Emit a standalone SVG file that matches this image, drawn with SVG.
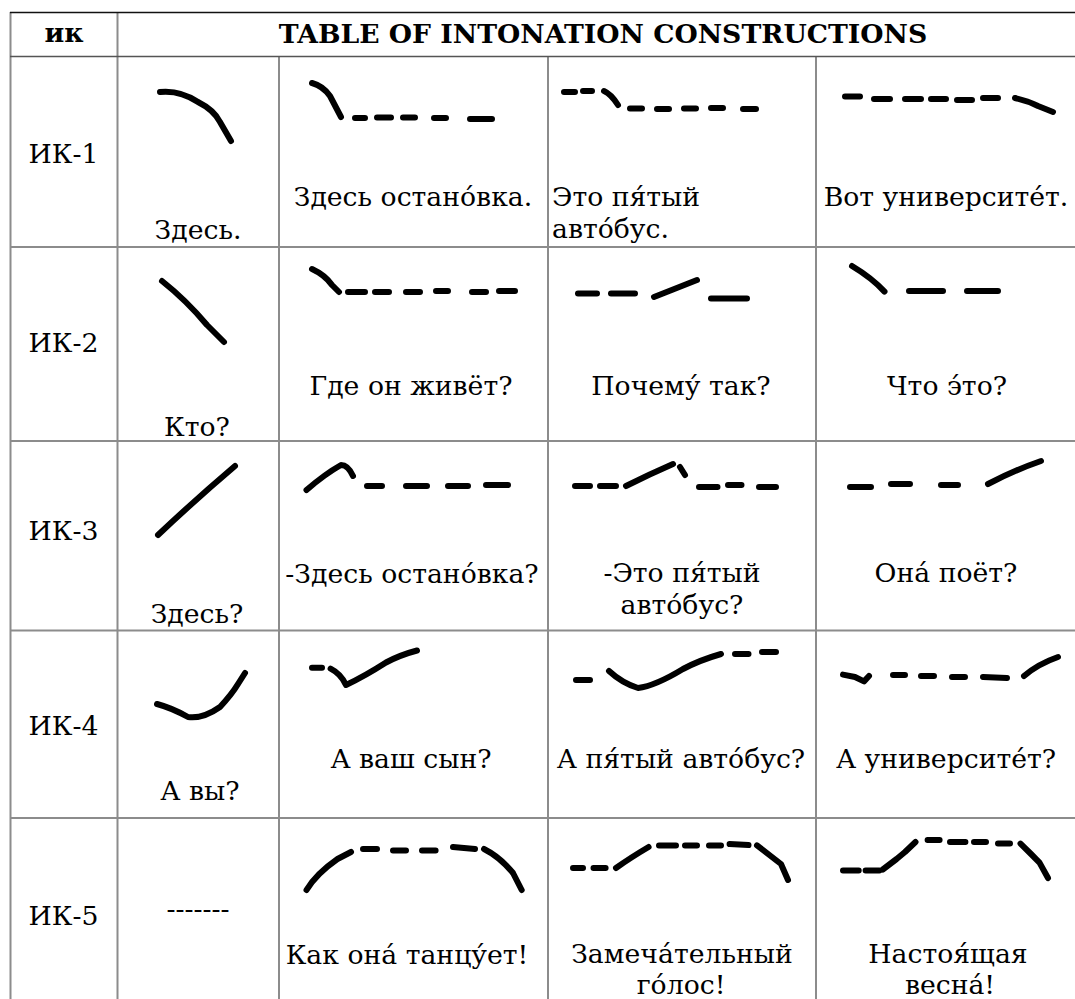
<svg xmlns="http://www.w3.org/2000/svg" width="1075" height="999" viewBox="0 0 1075 999">
<style>
.t{font-family:"DejaVu Serif","Liberation Serif",serif;font-size:26.7px;fill:#000}
.h{font-family:"DejaVu Serif","Liberation Serif",serif;font-size:26.7px;font-weight:bold;fill:#000}
.m{text-anchor:middle}
.c{fill:none;stroke:#000;stroke-width:6;stroke-linecap:round;stroke-linejoin:round}
.g{stroke:#8c8c8c;stroke-width:2;fill:none}
</style>
<rect width="1075" height="999" fill="#fff"/>
<g id="grid">
<line class="g" x1="10.5" y1="12" x2="10.5" y2="999"/>
<line class="g" x1="117.5" y1="12" x2="117.5" y2="999"/>
<line class="g" x1="279" y1="57" x2="279" y2="999"/>
<line class="g" x1="548" y1="57" x2="548" y2="999"/>
<line class="g" x1="816" y1="57" x2="816" y2="999"/>
<line class="g" x1="10" y1="247" x2="1075" y2="247"/>
<line class="g" x1="10" y1="441" x2="1075" y2="441"/>
<line class="g" x1="10" y1="630.5" x2="1075" y2="630.5"/>
<line class="g" x1="10" y1="818" x2="1075" y2="818"/>
<line x1="10" y1="56.5" x2="1075" y2="56.5" stroke="#555" stroke-width="1.5"/>
<line x1="10" y1="12.5" x2="1075" y2="12.5" stroke="#111" stroke-width="1.3"/>
</g>
<g id="header">
<text class="h m" x="64" y="42">ик</text>
<text class="h m" x="603" y="43">TABLE OF INTONATION CONSTRUCTIONS</text>
</g>
<g id="row1">
<text class="t m" x="63.5" y="163">ИК-1</text>
<g id="r1c1"><path class="c" d="M160,92 Q180,90 198,102 Q214,110 220,122 L231,141"/><text class="t m" x="198" y="239">Здесь.</text></g>
<g id="r1c2"><path class="c" d="M312,83 Q323,86 330,96 L341,117 M355,118 H365 M377,117.5 H391 M403,117.5 H415 M434,118 H446 M470,119 H492"/><text class="t m" x="413" y="206">Здесь остано&#769;вка.</text></g>
<g id="r1c3"><path class="c" d="M564,92 H575 M583,91 H592 M604,91 Q611,94 618,105 M630,108.5 H642 M657,109 H669 M684,108.5 H696 M711,108 H723 M743,109 H756"/><text class="t" x="552" y="206">Это пя&#769;тый</text><text class="t" x="552" y="238">авто&#769;бус.</text></g>
<g id="r1c4"><path class="c" d="M845,96.5 H860 M874,99 H890 M905,99 H921 M931,99 H946 M957,100 H972 M983,98 H998 M1015,98 Q1028,101 1038,106 L1053,112"/><text class="t m" x="946" y="206">Вот университе&#769;т.</text></g>
</g>
<g id="row2">
<text class="t m" x="63.5" y="352">ИК-2</text>
<g id="r2c1"><path class="c" d="M162,281 Q186,300 207,325 L224,342"/><text class="t m" x="197" y="436">Кто?</text></g>
<g id="r2c2"><path class="c" d="M312,269 Q325,275 332,285 L339,292 M348,292 H365 M375,292 H389 M406,292 H420 M436,291 H448 M472,292 H486 M499,291 H515"/><text class="t m" x="411" y="395">Где он живёт?</text></g>
<g id="r2c3"><path class="c" d="M578,293.5 H597 M611,293.5 H635 M654,297 L697,280 M711,298.5 H747"/><text class="t m" x="681" y="395">Почему&#769; так?</text></g>
<g id="r2c4"><path class="c" d="M852,266 Q872,278 884.5,291.6 M909,291 H943 M967,291 H998"/><text class="t m" x="947" y="395">Что э&#769;то?</text></g>
</g>
<g id="row3">
<text class="t m" x="63.5" y="540">ИК-3</text>
<g id="r3c1"><path class="c" d="M158,535 Q195,500 235,466"/><text class="t m" x="197" y="623">Здесь?</text></g>
<g id="r3c2"><path class="c" d="M306.5,490 Q325,474 341,465 Q348,465 353,476 M367,486 H382 M406,486 H427 M448,486 H468 M486,485 H508"/><text class="t m" x="412" y="583">-Здесь остано&#769;вка?</text></g>
<g id="r3c3"><path class="c" d="M575,486 H590 M600,486 H616 M626,486 Q650,474 673,464 M680,467 L685,475 M699,487 H717.5 M728,485 H741.5 M759,487 H776"/><text class="t m" x="682" y="582">-Это пя&#769;тый</text><text class="t m" x="682" y="614">авто&#769;бус?</text></g>
<g id="r3c4"><path class="c" d="M850,487 H871 M891,484 H910 M941,485 H958 M988,484 Q1015,470 1041,461"/><text class="t m" x="946" y="582">Она&#769; поёт?</text></g>
</g>
<g id="row4">
<text class="t m" x="63.5" y="735">ИК-4</text>
<g id="r4c1"><path class="c" d="M157,704 Q172,708 188,717 Q203,719 220,707 Q232,694 238,684 L245,673"/><text class="t m" x="200" y="800">А вы?</text></g>
<g id="r4c2"><path class="c" d="M312,667.7 H322 M330.6,668.7 Q341,674 346,685 Q365,676 386,662.5 Q400,655 417,650.5"/><text class="t m" x="411" y="768">А ваш сын?</text></g>
<g id="r4c3"><path class="c" d="M576,680 H590 M609,671 Q622,683 638,688 Q655,686 683,669 Q700,660 721,654 M735,654 H748.5 M762,652 H776"/><text class="t m" x="681" y="768">А пя&#769;тый авто&#769;бус?</text></g>
<g id="r4c4"><path class="c" d="M843,674.6 L855,677 L864,681.4 L869,676 M893,675 H905 M921,676 H934 M952,677 H965 M983,677 L1007,678 M1024,676 Q1038,664 1058,657"/><text class="t m" x="946" y="768">А университе&#769;т?</text></g>
</g>
<g id="row5">
<text class="t m" x="63.5" y="925">ИК-5</text>
<g id="r5c1"><text class="t m" x="198" y="918">-------</text></g>
<g id="r5c2"><path class="c" d="M306.5,890 Q316,874 337.5,859 L351,852 M363,849 H377 M393,850.5 H406 M422,850.5 H435.6 M453,847 L475,849 M484,849 Q500,857 513,873 L521.7,890"/><text class="t m" x="407" y="964">Как она&#769; танцу&#769;ет!</text></g>
<g id="r5c3"><path class="c" d="M573,868 H583 M593.5,868 H605.6 M616,868 Q630,858 648.6,847 M659,845.4 H676 M685,845.4 H697 M709,845.4 H721 M729.6,844 L748.5,845 M757,845.4 Q772,857 781,864 L788,880"/><text class="t m" x="682" y="963">Замеча&#769;тельный</text><text class="t m" x="681" y="994">го&#769;лос!</text></g>
<g id="r5c4"><path class="c" d="M843,870.5 H858.7 M865.6,870.5 H879.4 M882.8,869.5 L896.6,859 L905,852 L915.5,842 M927.6,840 H939.6 M950,842 H965.4 M974,842 H986 M998,843.6 H1010 M1020.5,843.6 L1031,854 L1039.5,862.6 L1048,878"/><text class="t m" x="948" y="963">Настоя&#769;щая</text><text class="t m" x="950" y="994">весна&#769;!</text></g>
</g>
</svg>
